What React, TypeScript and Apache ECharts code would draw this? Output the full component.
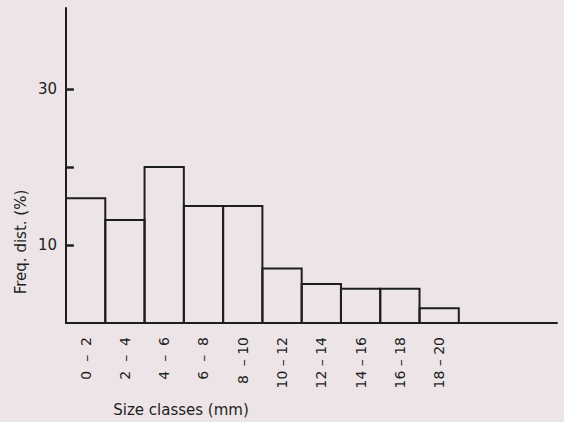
import React, { useEffect, useRef } from "react";
import * as echarts from "echarts";

const classLabels = ["0  –  2", "2  –  4", "4  –  6", "6  –  8", "8  – 10", "10 – 12", "12 – 14", "14 – 16", "16 – 18", "18 – 20"];
const classStarts = [0, 2, 4, 6, 8, 10, 12, 14, 16, 18];
const classEnds = [2, 4, 6, 8, 10, 12, 14, 16, 18, 20];
const freqValues = [16, 13.2, 20, 15, 15, 7, 5, 4.4, 4.4, 1.9];
const yTickValues = [10, 20, 30];
const yLabelValues = [10, 30];
const classMids = [1, 3, 5, 7, 9, 11, 13, 15, 17, 19];

const BG = "#ece4e6";
const INK = "#1e1e1e";
const FONT = "DejaVu Sans";
const TICK_LEN_X = 0.4; // tick length in x-axis units (~8px)

export default function App() {
  const ref = useRef<HTMLDivElement>(null);
  useEffect(() => {
    if (!ref.current) return;
    const chart = echarts.init(ref.current, undefined, { renderer: "svg" });
    const data = classStarts.map((s, i) => [s, classEnds[i], freqValues[i]]);
    chart.setOption({
      animation: false,
      backgroundColor: BG,
      grid: { left: 66, right: 7, top: 8, bottom: 99, containLabel: false },
      xAxis: {
        type: "value",
        min: 0,
        max: 25,
        axisLine: { show: true, lineStyle: { color: INK, width: 2 } },
        axisTick: { show: false },
        splitLine: { show: false },
        axisLabel: {
          customValues: classMids,
          rotate: 90,
          margin: 14,
          color: INK,
          fontFamily: FONT,
          fontSize: 14,
          formatter: (v: number) => {
            const idx = classMids.indexOf(Math.round(v));
            return idx >= 0 ? classLabels[idx] : "";
          },
        },
      },
      yAxis: {
        type: "value",
        min: 0,
        max: 40.4,
        axisLine: { show: true, lineStyle: { color: INK, width: 2 } },
        axisTick: { show: false },
        splitLine: { show: false },
        axisLabel: {
          customValues: yLabelValues,
          color: INK,
          fontFamily: FONT,
          fontSize: 15,
          margin: 9,
        },
      },
      series: [
        {
          type: "custom",
          data,
          encode: { x: [0, 1], y: 2 },
          renderItem: (params: any, api: any) => {
            const p0 = api.coord([api.value(0), api.value(2)]);
            const p1 = api.coord([api.value(1), 0]);
            return {
              type: "rect",
              shape: { x: p0[0], y: p0[1], width: p1[0] - p0[0], height: p1[1] - p0[1] },
              style: { fill: "rgba(0,0,0,0)", stroke: INK, lineWidth: 2 },
            };
          },
          markLine: {
            silent: true,
            symbol: ["none", "none"],
            label: { show: false },
            lineStyle: { color: INK, width: 2.5, type: "solid" },
            data: yTickValues.map((t) => [{ coord: [0, t] }, { coord: [TICK_LEN_X, t] }]),
          },
        },
      ],
      graphic: [
        {
          type: "text",
          x: 181,
          y: 410,
          style: {
            text: "Size classes (mm)",
            fill: INK,
            font: `15px ${FONT}`,
            align: "center",
            verticalAlign: "middle",
          },
        },
        {
          type: "text",
          x: 21,
          y: 242,
          rotation: Math.PI / 2,
          style: {
            text: "Freq. dist. (%)",
            fill: INK,
            font: `15px ${FONT}`,
            align: "center",
            verticalAlign: "middle",
          },
        },
      ],
    });
    return () => chart.dispose();
  }, []);
  return (
    <div
      ref={ref}
      style={{ position: "fixed", left: 0, top: 0, width: 564, height: 422, background: BG }}
    />
  );
}
